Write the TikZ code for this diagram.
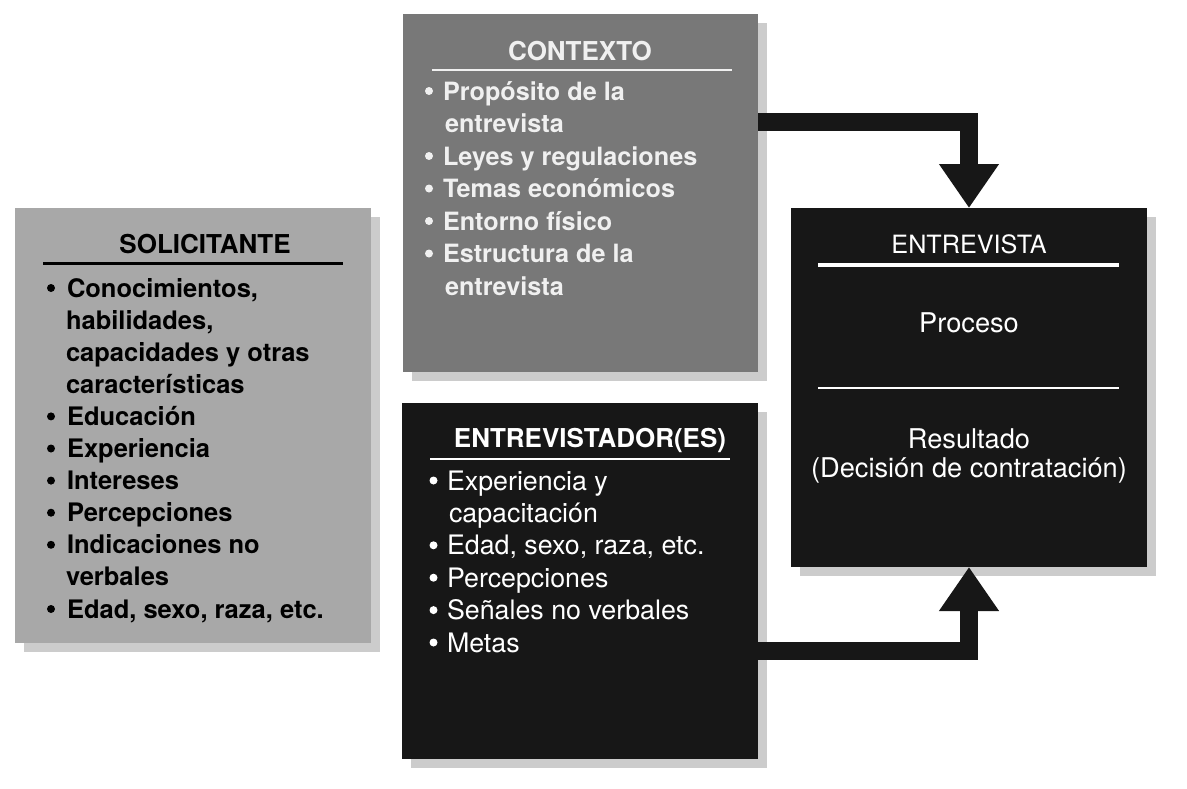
\documentclass[tikz,border=0pt]{standalone}
\usepackage{fontspec}
\setmainfont{TeX Gyre Heros}
\usetikzlibrary{arrows.meta,calc,shadows}

\definecolor{solfill}{gray}{0.66}
\definecolor{ctxfill}{gray}{0.47}
\definecolor{darkfill}{gray}{0.09}
\definecolor{shadowc}{gray}{0.80}
\definecolor{ctxtext}{gray}{0.94}

\newcommand\mySolTitle{\fontsize{26pt}{30pt}\selectfont\bfseries}
\newcommand\mySolText{\fontsize{25.5pt}{30pt}\selectfont\bfseries}
\newcommand\myCtxText{\fontsize{25.2pt}{30pt}\selectfont\bfseries}
\newcommand\myIntTitle{\fontsize{26pt}{30pt}\selectfont\bfseries}
\newcommand\myIntText{\fontsize{26.8pt}{30pt}\selectfont}
\newcommand\myEntTitle{\fontsize{25.2pt}{30pt}\selectfont}
\newcommand\myEntText{\fontsize{27.2pt}{30pt}\selectfont}

\tikzset{
  panel/.style={rectangle, inner sep=0pt, outer sep=0pt, anchor=north west,
    drop shadow={shadow xshift=9pt, shadow yshift=-9pt, fill=shadowc, opacity=1}},
  ln/.style={inner sep=0pt, outer sep=0pt, anchor=base west},
  ttl/.style={inner sep=0pt, outer sep=0pt, anchor=base},
  flowarrow/.style={draw=darkfill, line width=18pt, -{Triangle[width=57pt,length=44pt]}},
}

\begin{document}
\begin{tikzpicture}[x=1pt,y=-1pt]
\useasboundingbox (0,0) rectangle (1187,788);

% panels
\node[panel, fill=solfill, minimum width=356pt, minimum height=435pt] (sol) at (15,208) {};
\node[panel, fill=ctxfill, minimum width=355pt, minimum height=358pt] (ctx) at (403,14) {};
\node[panel, fill=darkfill, minimum width=356pt, minimum height=356pt] (intv) at (402,403) {};
\node[panel, fill=darkfill, minimum width=356pt, minimum height=359pt] (ent) at (791,208) {};

% arrows
\draw[flowarrow] ($(ctx.north east)+(0,107.5)$) -| (ent.north);
\draw[flowarrow] ($(intv.north east)+(0,248)$) -| (ent.south);

% SOLICITANTE
\node[ttl, font=\mySolTitle] (solt) at (205,253) {SOLICITANTE};
\draw[line width=3pt] (43,263) -- (343,263);
\begin{scope}[font=\mySolText]
\node[ln] (s0) at (67,297) {Conocimientos,};
\node[ln] (s1) at (66,329.1) {habilidades,};
\node[ln] (s2) at (66,361.2) {capacidades y otras};
\node[ln] (s3) at (66,393.3) {características};
\node[ln] (s4) at (67,425.4) {Educación};
\node[ln] (s5) at (67,457.5) {Experiencia};
\node[ln] (s6) at (67,489.6) {Intereses};
\node[ln] (s7) at (67,521.7) {Percepciones};
\node[ln] (s8) at (67,553.8) {Indicaciones no};
\node[ln] (s9) at (66,585.9) {verbales};
\node[ln] (s10) at (67,618) {Edad, sexo, raza, etc.};
\end{scope}
\foreach \n in {s0,s4,s5,s6,s7,s8,s10}
  \fill ($(\n.base west)+(-16,-9)$) circle (4pt);

% CONTEXTO
\node[ttl, font=\mySolTitle, text=ctxtext] (ctxt) at (580,60) {CONTEXTO};
\draw[ctxtext, line width=2.5pt] (432,70) -- (732,70);
\begin{scope}[font=\myCtxText, text=ctxtext]
\node[ln] (c0) at (443,100) {Propósito de la};
\node[ln] (c1) at (445,132.5) {entrevista};
\node[ln] (c2) at (443,165) {Leyes y regulaciones};
\node[ln] (c3) at (443,197.5) {Temas económicos};
\node[ln] (c4) at (443,230) {Entorno físico};
\node[ln] (c5) at (443,262.5) {Estructura de la};
\node[ln] (c6) at (445,295) {entrevista};
\end{scope}
\foreach \n in {c0,c2,c3,c4,c5}
  \fill[ctxtext] ($(\n.base west)+(-14,-9)$) circle (4pt);

% ENTREVISTADOR(ES)
\node[ttl, font=\myIntTitle, text=white] (intt) at (590,447) {ENTREVISTADOR(ES)};
\draw[white, line width=2.5pt] (430,459) -- (730,459);
\begin{scope}[font=\myIntText, text=white]
\node[ln] (i0) at (447,490) {Experiencia y};
\node[ln] (i1) at (449,522.4) {capacitación};
\node[ln] (i2) at (447,554.8) {Edad, sexo, raza, etc.};
\node[ln] (i3) at (447,587.2) {Percepciones};
\node[ln] (i4) at (447,619.6) {Señales no verbales};
\node[ln] (i5) at (447,652) {Metas};
\end{scope}
\foreach \n in {i0,i2,i3,i4,i5}
  \fill[white] ($(\n.base west)+(-13.5,-9.5)$) circle (4pt);

% ENTREVISTA
\node[ttl, font=\myEntTitle, text=white] (entt) at (969,253) {ENTREVISTA};
\draw[white, line width=3.5pt] (818,265) -- (1119,265);
\node[ttl, font=\myEntText, text=white] (e1) at (969,332) {Proceso};
\draw[white, line width=1.2pt] (818,388) -- (1119,388);
\node[ttl, font=\myEntText, text=white] (e2) at (969,448) {Resultado};
\node[ttl, font=\myEntText, text=white] (e3) at (969,477) {(Decisión de contratación)};
\end{tikzpicture}
\end{document}
